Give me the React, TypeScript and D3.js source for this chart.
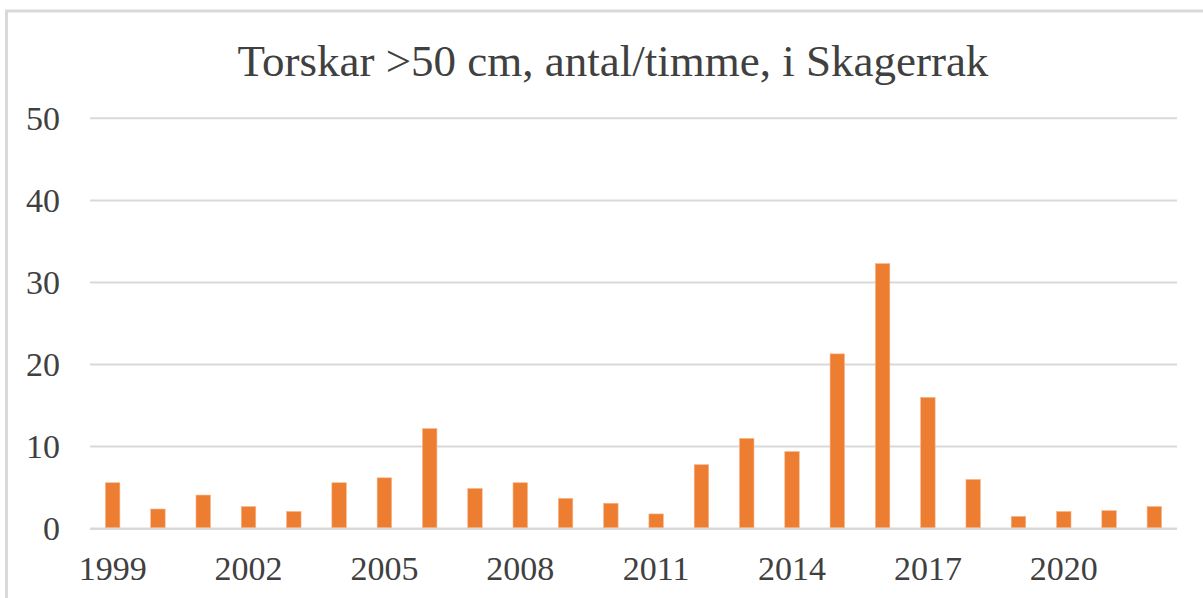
import { useEffect, useRef } from "react";
import * as d3 from "d3";

const YEARS = [
  "1999", "2000", "2001", "2002", "2003", "2004", "2005", "2006",
  "2007", "2008", "2009", "2010", "2011", "2012", "2013", "2014",
  "2015", "2016", "2017", "2018", "2019", "2020", "2021", "2022",
];
const COUNTS = [
  5.6, 2.4, 4.1, 2.7, 2.1, 5.6, 6.2, 12.2,
  4.9, 5.6, 3.7, 3.1, 1.8, 7.8, 11.0, 9.4,
  21.3, 32.3, 16.0, 6.0, 1.5, 2.1, 2.2, 2.7,
];
const Y_TICKS = [0, 10, 20, 30, 40, 50];
const X_LABELS = ["1999", "2002", "2005", "2008", "2011", "2014", "2017", "2020"];
const TITLE = "Torskar >50 cm, antal/timme, i Skagerrak";

const W = 1203;
const H = 598;
const BAR_FILL = "#ED7D31";
const GRID = "#d9d9d9";
const TEXT = "#404040";
const FONT = "'Liberation Serif', 'Times New Roman', serif";

export default function App() {
  const ref = useRef<SVGSVGElement>(null);

  useEffect(() => {
    const el = ref.current;
    if (!el) return;
    const svg = d3.select(el);
    svg.selectAll("*").remove();

    const plot = { left: 90, right: 1177, top: 118.3, bottom: 528.7 };

    // chart frame (cropped on right/bottom in the original)
    svg.append("rect")
      .attr("x", 0).attr("y", 0).attr("width", W).attr("height", H)
      .attr("fill", "#fff");
    svg.append("rect")
      .attr("x", 6.5).attr("y", 11)
      .attr("width", 1400).attr("height", 800)
      .attr("fill", "#fff")
      .attr("stroke", GRID)
      .attr("stroke-width", 3);

    svg.append("text")
      .attr("x", 613)
      .attr("y", 76)
      .attr("text-anchor", "middle")
      .attr("font-family", FONT)
      .attr("font-size", 45)
      .attr("fill", TEXT)
      .text(TITLE);

    const x = d3.scaleBand<string>()
      .domain(YEARS)
      .range([plot.left, plot.right])
      .paddingInner(0.68)
      .paddingOuter(0.34);

    const y = d3.scaleLinear()
      .domain([0, 50])
      .range([plot.bottom, plot.top]);

    // gridlines
    svg.append("g")
      .selectAll("line")
      .data(Y_TICKS)
      .join("line")
      .attr("x1", plot.left)
      .attr("x2", plot.right)
      .attr("y1", (d) => y(d))
      .attr("y2", (d) => y(d))
      .attr("stroke", GRID)
      .attr("stroke-width", (d) => (d === 0 ? 2.5 : 2));

    // y tick labels
    svg.append("g")
      .selectAll("text")
      .data(Y_TICKS)
      .join("text")
      .attr("x", 60)
      .attr("y", (d) => y(d))
      .attr("dy", "0.34em")
      .attr("text-anchor", "end")
      .attr("font-family", FONT)
      .attr("font-size", 34)
      .attr("fill", TEXT)
      .text((d) => String(d));

    // bars
    svg.append("g")
      .selectAll("rect")
      .data(COUNTS)
      .join("rect")
      .attr("x", (_, i) => x(YEARS[i]) ?? 0)
      .attr("width", x.bandwidth())
      .attr("y", (d) => y(d))
      .attr("height", (d) => y(0) - y(d) - 1)
      .attr("fill", BAR_FILL)
      .attr("stroke", "#f6b88e")
      .attr("stroke-width", 0.6);

    // x labels, every third year
    svg.append("g")
      .selectAll("text")
      .data(X_LABELS)
      .join("text")
      .attr("x", (d) => (x(d) ?? 0) + x.bandwidth() / 2)
      .attr("y", 580)
      .attr("text-anchor", "middle")
      .attr("font-family", FONT)
      .attr("font-size", 34)
      .attr("fill", TEXT)
      .text((d) => d);
  }, []);

  return (
    <svg
      ref={ref}
      width={W}
      height={H}
      style={{ position: "absolute", left: 0, top: 0, display: "block" }}
    />
  );
}
